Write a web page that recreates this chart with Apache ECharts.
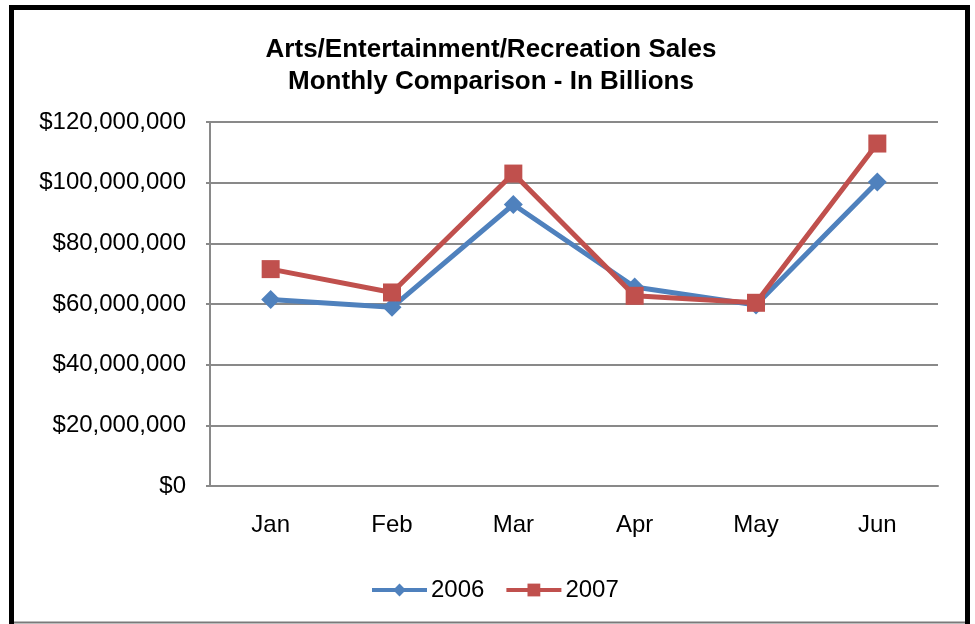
<!DOCTYPE html>
<html>
<head>
<meta charset="utf-8">
<script src="https://cdn.jsdelivr.net/npm/echarts@6/dist/echarts.min.js"></script>
<style>
  html, body { margin: 0; padding: 0; background: #fff; }
  #chart { width: 975px; height: 624px; }
</style>
</head>
<body>
<div id="chart"></div>
<script>
// Monthly sales, first half of the year
const months = ['Jan', 'Feb', 'Mar', 'Apr', 'May', 'Jun'];
const sales2006 = [61500000, 58900000, 92800000, 65600000, 59700000, 100200000];
const sales2007 = [71500000, 63800000, 103000000, 62700000, 60400000, 112900000];
const yTicks = [0, 20000000, 40000000, 60000000, 80000000, 100000000, 120000000];

const font = '"Liberation Sans", Arial, sans-serif';
const gridGray = '#898989';

function money(v) {
  return '$' + Math.round(v).toString().replace(/\B(?=(\d{3})+(?!\d))/g, ',');
}

const chart = echarts.init(document.getElementById('chart'), null, { renderer: 'canvas' });

chart.setOption({
  backgroundColor: '#ffffff',
  animation: false,
  textStyle: { fontFamily: font },
  title: {
    text: 'Arts/Entertainment/Recreation Sales\nMonthly Comparison - In Billions',
    left: 486,
    textAlign: 'center',
    top: 29,
    textStyle: {
      fontFamily: font,
      fontWeight: 'bold',
      fontSize: 26,
      lineHeight: 32,
      color: '#000'
    }
  },
  legend: {
    bottom: 17,
    left: 365,
    itemWidth: 55,
    itemHeight: 16,
    itemGap: 20,
    lineStyle: { width: 4 },
    textStyle: { fontFamily: font, fontSize: 24, color: '#000', padding: [0, 0, 0, -1] },
    data: ['2006', '2007']
  },
  grid: {
    left: 210,
    right: 37,
    top: 122,
    bottom: 138,
    containLabel: false
  },
  xAxis: {
    type: 'category',
    data: months,
    boundaryGap: true,
    axisLine: { show: true, lineStyle: { color: gridGray, width: 2 } },
    axisTick: { show: false },
    axisLabel: { color: '#000', fontSize: 24, fontFamily: font, margin: 27 },
    splitLine: { show: false }
  },
  yAxis: {
    type: 'value',
    min: yTicks[0],
    max: yTicks[yTicks.length - 1],
    interval: yTicks[1] - yTicks[0],
    axisLine: { show: true, lineStyle: { color: gridGray, width: 2 } },
    axisTick: { show: true, length: 4, lineStyle: { color: gridGray, width: 2 } },
    axisLabel: {
      color: '#000', fontSize: 24, fontFamily: font, margin: 24,
      formatter: money
    },
    splitLine: { show: true, lineStyle: { color: gridGray, width: 2 } }
  },
  series: [
    {
      name: '2006',
      type: 'line',
      data: sales2006,
      symbol: 'diamond',
      symbolSize: 19,
      showAllSymbol: true,
      itemStyle: { color: '#4F81BD' },
      lineStyle: { color: '#4F81BD', width: 5 },
      z: 2
    },
    {
      name: '2007',
      type: 'line',
      data: sales2007,
      symbol: 'rect',
      symbolSize: 18,
      showAllSymbol: true,
      itemStyle: { color: '#C0504D' },
      lineStyle: { color: '#C0504D', width: 5 },
      z: 3
    }
  ],
  graphic: [
    {
      type: 'rect',
      shape: { x: 11.5, y: 7.5, width: 956, height: 700 },
      style: { fill: 'none', stroke: '#000', lineWidth: 5 },
      silent: true
    },
    {
      type: 'line',
      shape: { x1: 14, y1: 622.5, x2: 965, y2: 622.5 },
      style: { stroke: '#7a7a7a', lineWidth: 2 },
      silent: true
    }
  ]
});
</script>
</body>
</html>
